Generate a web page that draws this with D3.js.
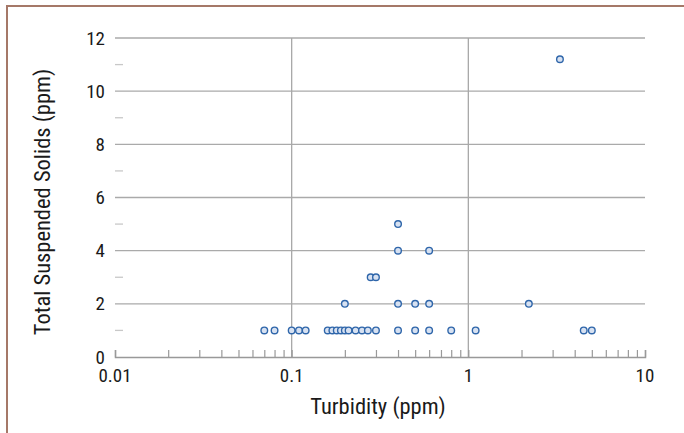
<!DOCTYPE html>
<html><head><meta charset="utf-8">
<script src="https://cdn.jsdelivr.net/npm/d3@7/dist/d3.min.js"></script>
<style>
body{margin:0;background:#fff;}
text{font-family:"Liberation Sans Narrow","Arial Narrow","Roboto Condensed",sans-serif;fill:#1a1a1a;}
</style></head>
<body><svg id="c" width="684" height="433"></svg>
<script>
// Turbidity (ppm) and Total Suspended Solids (ppm)
const turbidity = [0.07,0.08,0.1,0.11,0.12,0.16,0.17,0.18,0.19,0.2,0.21,0.23,0.25,0.27,0.3,0.4,0.5,0.6,0.8,1.1,4.5,5,
                   0.2,0.4,0.5,0.6,2.2,
                   0.28,0.3,
                   0.4,0.6,
                   0.4,
                   3.3];
const tss = [1,1,1,1,1,1,1,1,1,1,1,1,1,1,1,1,1,1,1,1,1,1,
             2,2,2,2,2,
             3,3,
             4,4,
             5,
             11.2];
const xTickLabels = ["0.01","0.1","1","10"];
const yTickLabels = ["0","2","4","6","8","10","12"];

const svg = d3.select("#c");
const L=115,R=645,T=38,B=357;
const x = d3.scaleLog().domain([0.01,10]).range([L,R]);
const y = d3.scaleLinear().domain([0,12]).range([B,T]);

// frame
svg.append("path").attr("d","M7,433V6H684").attr("fill","none").attr("stroke","#a57868").attr("stroke-width",2);

// horizontal grid
const g = svg.append("g");
[2,4,6,8,10,12].forEach(v=>{
  g.append("line").attr("x1",L).attr("x2",R).attr("y1",y(v)).attr("y2",y(v)).attr("stroke","#aaa").attr("stroke-width",1.3);
});
[1,3,5,7,9,11].forEach(v=>{
  g.append("line").attr("x1",L).attr("x2",L+8).attr("y1",y(v)).attr("y2",y(v)).attr("stroke","#c8c8c8").attr("stroke-width",1.3);
});
// vertical grid
[0.1,1].forEach(v=>{
  g.append("line").attr("x1",x(v)).attr("x2",x(v)).attr("y1",y(12)).attr("y2",B).attr("stroke","#a8a8a8").attr("stroke-width",1.3);
});

// x axis
const xAxis = d3.axisBottom(x).tickValues(x.ticks()).tickSize(-7).tickFormat("");
const xa = svg.append("g").attr("transform",`translate(0,${B})`).call(xAxis);
xa.select(".domain").attr("stroke","#999").attr("stroke-width",1.5);
xa.selectAll(".tick line").attr("stroke","#999").attr("stroke-width",1.2);
// x labels
svg.selectAll(".xl").data(xTickLabels).enter().append("text")
  .attr("x",d=>x(+d)).attr("y",B+25).attr("text-anchor","middle").attr("font-size",19).text(d=>d);
// y labels
svg.selectAll(".yl").data(yTickLabels).enter().append("text")
  .attr("x",105).attr("y",d=>y(+d)+6.5).attr("text-anchor","end").attr("font-size",19).text(d=>d);

// titles
svg.append("text").attr("x",378).attr("y",414).attr("text-anchor","middle").attr("font-size",22.5).text("Turbidity (ppm)");
svg.append("text").attr("transform","translate(50,202) rotate(-90)").attr("text-anchor","middle").attr("font-size",22.5).text("Total Suspended Solids (ppm)");

// points
svg.append("g").selectAll("circle").data(turbidity.map((t,i)=>[t,tss[i]])).enter().append("circle")
  .attr("cx",d=>x(d[0])).attr("cy",d=>y(d[1])).attr("r",3.3)
  .attr("fill","#d7e1f1").attr("stroke","#2f66aa").attr("stroke-width",1.4);
</script></body></html>
